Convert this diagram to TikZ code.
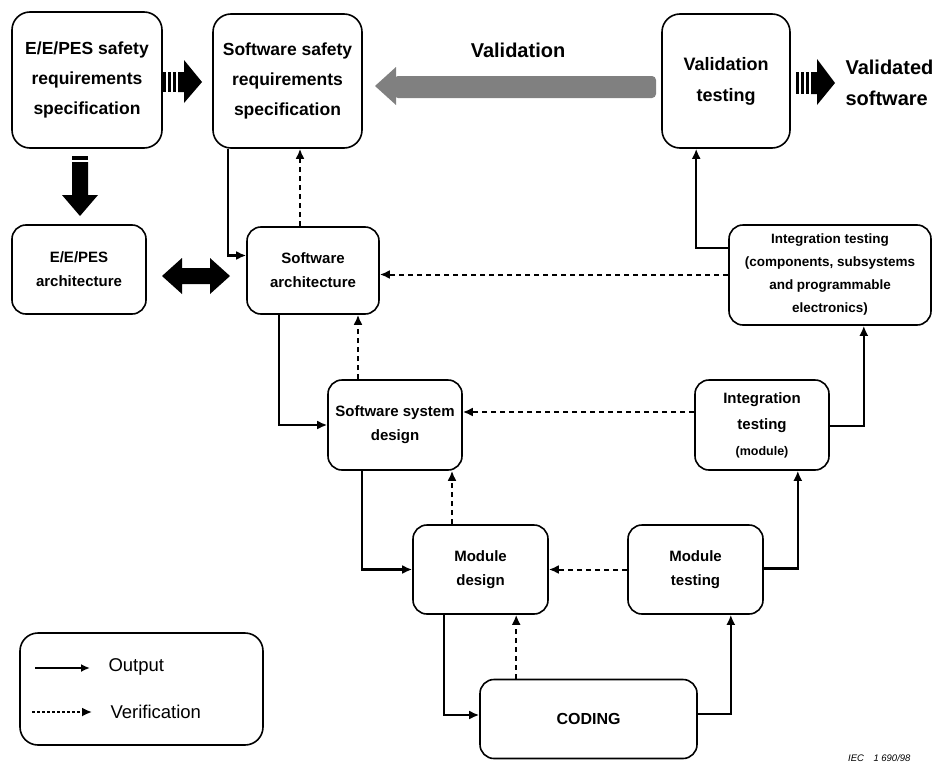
\documentclass[tikz,border=0pt]{standalone}
\usepackage{fontspec}
\setmainfont{Liberation Sans}
\usetikzlibrary{arrows.meta,calc}
\tikzset{
  box/.style={draw, line width=1.6pt, rounded corners=18pt, align=center,
    font=\bfseries\fontsize{17.5}{30}\selectfont, inner sep=0pt},
  sbox/.style={box, rounded corners=14pt, font=\bfseries\fontsize{15}{24}\selectfont},
  outp/.style={line width=2.2pt, -{Latex[length=10pt,width=9pt]}},
  verif/.style={line width=2pt, dash pattern=on 5pt off 4pt, -{Latex[length=10pt,width=9pt]}},
  blk/.style={fill=black},
}
\begin{document}
\begin{tikzpicture}[x=1pt,y=-1pt]
\useasboundingbox (0,0) rectangle (941,768);

% process boxes
\node[box, minimum width=150, minimum height=136] (eereq) at (87,80)
  {E/E/PES safety\\requirements\\specification};
\node[box, minimum width=149, minimum height=134] (swreq) at (287.5,81)
  {Software safety\\requirements\\specification};
\node[box, minimum width=128, minimum height=134, font=\bfseries\fontsize{18}{31}\selectfont] (valtest) at (726,81)
  {Validation\\testing};
\node[sbox, minimum width=134, minimum height=89] (eearch) at (79,269.5)
  {E/E/PES\\architecture};
\node[sbox, minimum width=132, minimum height=87] (swarch) at (313,270.5)
  {Software\\architecture};
\node[sbox, minimum width=202, minimum height=100, font=\bfseries\fontsize{13.5}{23}\selectfont] (inttest) at (830,275)
  {Integration testing\\(components, subsystems\\and programmable\\electronics)};
\node[sbox, minimum width=134, minimum height=90] (sysdes) at (395,425)
  {Software system\\design};
\node[sbox, minimum width=134, minimum height=90, font=\bfseries\fontsize{15}{26}\selectfont] (intmod) at (762,425)
  {Integration\\testing\\{\fontsize{12.5}{25}\selectfont(module)}};
\node[sbox, minimum width=135, minimum height=89] (moddes) at (480.5,569.5)
  {Module\\design};
\node[sbox, minimum width=135, minimum height=89] (modtest) at (695.5,569.5)
  {Module\\testing};
\node[sbox, minimum width=217, minimum height=79, font=\bfseries\fontsize{16}{24}\selectfont] (coding) at (588.5,719)
  {CODING};

% free labels
\node[font=\bfseries\fontsize{20}{22}\selectfont] (vallbl) at (518,50) {Validation};
\node[anchor=west, align=left, font=\bfseries\fontsize{20}{31}\selectfont] (valsw) at (842,83)
  {Validated\\software};
\node[anchor=east, font=\itshape\fontsize{9.5}{11}\selectfont] (iec) at (914,758) {IEC\quad 1 690/98};

% striped block arrow E/E/PES -> software requirements
\foreach \x in {163,168,173} \fill[blk] (\x,72) rectangle (\x+3,92);
\fill[blk] (178,72) -- (184,72) -- (184,60) -- (202,82) -- (184,103) -- (184,92) -- (178,92) -- cycle;

% striped block arrow down to E/E/PES architecture
\fill[blk] (72,156) rectangle (88,160);
\fill[blk] (72,162) -- (88,162) -- (88,195) -- (98,195) -- (80,216) -- (62,195) -- (72,195) -- cycle;

% double block arrow between the two architectures
\fill[blk] (162,276) -- (182,258) -- (182,268) -- (210,268) -- (210,258) -- (230,276)
  -- (210,294) -- (210,284) -- (182,284) -- (182,294) -- cycle;

% striped block arrow to validated software
\foreach \x in {796,801,806} \fill[blk] (\x,72) rectangle (\x+3,94);
\fill[blk] (811,72) -- (817,72) -- (817,59) -- (835,83) -- (817,105) -- (817,94) -- (811,94) -- cycle;

% grey validation arrow
\fill[black!50, rounded corners=4pt] (394,76) rectangle (656,98);
\fill[black!50] (375,86) -- (396,67) -- (396,105) -- cycle;

% output connectors
\draw[outp] ([xshift=16]swreq.south west) |- ([yshift=15]swarch.west);
\draw[outp] ([xshift=33]swarch.south west) |- (sysdes.west);
\draw[outp] ([xshift=35]sysdes.south west) |- (moddes.west);
\draw[outp] ([xshift=32]moddes.south west) |- ([yshift=4]coding.west);
\draw[outp] ([yshift=5]coding.east) -| ([xshift=-33]modtest.south east);
\draw[outp] ([yshift=1]modtest.east) -| ([xshift=-32]intmod.south east);
\draw[outp] ([yshift=-1]intmod.east) -| ([xshift=-68]inttest.south east);
\draw[outp] ([yshift=27]inttest.west) -| ([xshift=35]valtest.south west);

% verification connectors
\draw[verif] ([xshift=-13]swarch.north) -- ([xshift=12.5]swreq.south);
\draw[verif] ([xshift=-37]sysdes.north) -- ([xshift=-37]sysdes.north |- swarch.south);
\draw[verif] ([xshift=-28.5]moddes.north) -- ([xshift=-28.5]moddes.north |- sysdes.south);
\draw[verif] ([xshift=37]coding.north west) -- ([xshift=37]coding.north west |- moddes.south);
\draw[verif] (inttest.west |- swarch.east) ++(0,4) coordinate (v1) -- (v1 -| swarch.east);
\draw[verif] ([yshift=13]intmod.west) -- ([yshift=13]intmod.west -| sysdes.east);
\draw[verif] (modtest.west) -- (moddes.east);

% legend
\node[draw, line width=1.6pt, rounded corners=18pt, minimum width=243, minimum height=112] (legend) at (141.5,689) {};
\coordinate (lo1) at (35,668);
\coordinate (lo2) at (90,668);
\coordinate (lv1) at (32,712);
\coordinate (lv2) at (92,712);
\draw[line width=1.8pt, -{Latex[length=9pt,width=8pt]}] (lo1) -- (lo2);
\draw[line width=1.8pt, dash pattern=on 3pt off 2pt, -{Latex[length=10pt,width=9pt]}] (lv1) -- (lv2);
\node[anchor=west, font=\fontsize{18.5}{22}\selectfont] (lout) at (105,667) {Output};
\node[anchor=west, font=\fontsize{18.5}{22}\selectfont] (lver) at (107,712) {Verification};
\end{tikzpicture}
\end{document}
